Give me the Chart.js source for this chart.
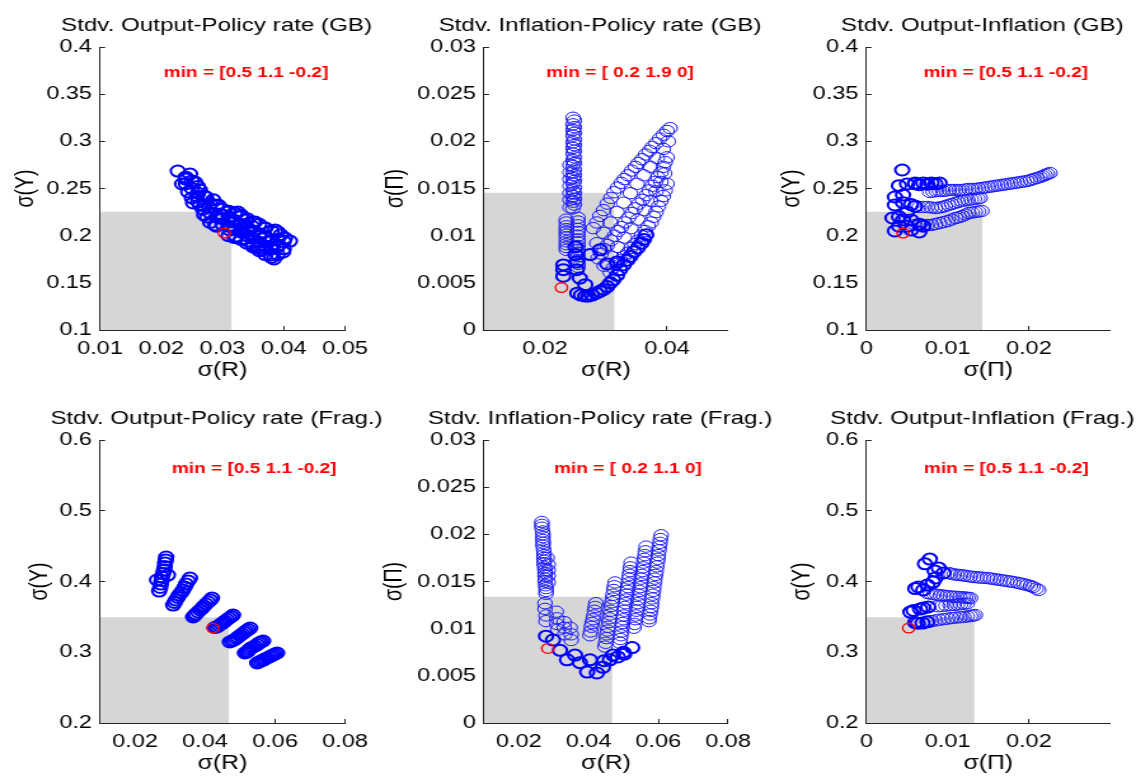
<!DOCTYPE html>
<html>
<head>
<meta charset="utf-8">
<script src="https://cdn.jsdelivr.net/npm/chart.js@4.4.0/dist/chart.umd.min.js"></script>
<style>
html,body{margin:0;padding:0;background:#fff;overflow:hidden;width:1136px;height:776px;}
#wrap{position:relative;width:1136px;height:776px;}
#wrap canvas{position:absolute;left:0;top:0;}
</style>
</head>
<body>
<div id="wrap"></div>
<script>
// ---------------- data ----------------
const titles = [
  'Stdv. Output-Policy rate (GB)',
  'Stdv. Inflation-Policy rate (GB)',
  'Stdv. Output-Inflation (GB)',
  'Stdv. Output-Policy rate (Frag.)',
  'Stdv. Inflation-Policy rate (Frag.)',
  'Stdv. Output-Inflation (Frag.)'
];
const notes = [
  'min = [0.5 1.1 -0.2]',
  'min = [ 0.2 1.9 0]',
  'min = [0.5 1.1 -0.2]',
  'min = [0.5 1.1 -0.2]',
  'min = [ 0.2 1.1 0]',
  'min = [0.5 1.1 -0.2]'
];
const xAxisLabels = ['σ(R)', 'σ(R)', 'σ(Π)', 'σ(R)', 'σ(R)', 'σ(Π)'];
const yAxisLabels = ['σ(Y)', 'σ(Π)', 'σ(Y)', 'σ(Y)', 'σ(Π)', 'σ(Y)'];

const xRanges = [[0.01, 0.05], [0.01, 0.05], [0, 0.03], [0.01, 0.08], [0.01, 0.08], [0, 0.03]];
const yRanges = [[0.1, 0.4], [0, 0.03], [0.1, 0.4], [0.2, 0.6], [0, 0.03], [0.2, 0.6]];

const xTickValues = [
  [0.01, 0.02, 0.03, 0.04, 0.05], [0.02, 0.04], [0, 0.01, 0.02],
  [0.02, 0.04, 0.06, 0.08], [0.02, 0.04, 0.06, 0.08], [0, 0.01, 0.02]
];
const xTickLabels = [
  ['0.01', '0.02', '0.03', '0.04', '0.05'], ['0.02', '0.04'], ['0', '0.01', '0.02'],
  ['0.02', '0.04', '0.06', '0.08'], ['0.02', '0.04', '0.06', '0.08'], ['0', '0.01', '0.02']
];
const yTicksOutputGB = [0.1, 0.15, 0.2, 0.25, 0.3, 0.35, 0.4];
const yLabelsOutputGB = ['0.1', '0.15', '0.2', '0.25', '0.3', '0.35', '0.4'];
const yTicksInfl = [0, 0.005, 0.01, 0.015, 0.02, 0.025, 0.03];
const yLabelsInfl = ['0', '0.005', '0.01', '0.015', '0.02', '0.025', '0.03'];
const yTicksOutputFrag = [0.2, 0.3, 0.4, 0.5, 0.6];
const yLabelsOutputFrag = ['0.2', '0.3', '0.4', '0.5', '0.6'];
const yTickValues = [yTicksOutputGB, yTicksInfl, yTicksOutputGB, yTicksOutputFrag, yTicksInfl, yTicksOutputFrag];
const yTickLabels = [yLabelsOutputGB, yLabelsInfl, yLabelsOutputGB, yLabelsOutputFrag, yLabelsInfl, yLabelsOutputFrag];

// shaded region upper corners [x, y]
const shadeLimits = [[0.0315, 0.2254], [0.0314, 0.01456], [0.0143, 0.2254], [0.0469, 0.3494], [0.0468, 0.01339], [0.0133, 0.3494]];

// Panel 1: GB, sigma(R) vs sigma(Y)
const gbOutPol_thick = [
  [0.0227,0.2685],[0.0247,0.2654],[0.0234,0.2548],[0.0255,0.2569],[0.0244,0.2463],[0.0263,0.2484],
  [0.0252,0.2346],[0.0273,0.2410],[0.0278,0.2304],[0.0275,0.2198],[0.0293,0.2325],[0.0296,0.2230],
  [0.0263,0.2325],[0.0288,0.2113],[0.0309,0.2251],[0.0312,0.2060],[0.0316,0.2145],[0.0325,0.2251],
  [0.0329,0.2113],[0.0322,0.1996],[0.0337,0.2166],[0.0345,0.2060],[0.0342,0.1943],[0.0353,0.2145],
  [0.0361,0.1996],[0.0358,0.1869],[0.0369,0.2081],[0.0374,0.1933],[0.0378,0.1795],[0.0386,0.2060],
  [0.0391,0.1901],[0.0384,0.1753],[0.0402,0.1975],[0.0410,0.1943],[0.0399,0.1827],[0.0240,0.2600],
  [0.0285,0.2380],[0.0300,0.2180],[0.0335,0.2030],[0.0350,0.1900],[0.0365,0.1850],[0.0395,0.2010],
  [0.0370,0.1990],[0.0380,0.1880],[0.0348,0.2100],[0.0330,0.2200],[0.0268,0.2280],[0.0258,0.2420],
  [0.024,0.255],[0.024,0.262],[0.025,0.240],[0.025,0.250],[0.025,0.258],[0.026,0.236],[0.026,0.245],[0.026,0.252],
  [0.027,0.222],[0.027,0.232],[0.027,0.242],[0.028,0.214],[0.028,0.224],[0.028,0.234],[0.029,0.210],[0.029,0.220],
  [0.029,0.232],[0.030,0.212],[0.030,0.222],[0.030,0.228],[0.031,0.200],[0.031,0.210],[0.031,0.220],[0.031,0.226],
  [0.032,0.198],[0.032,0.207],[0.032,0.216],[0.032,0.224],[0.033,0.196],[0.033,0.204],[0.033,0.212],[0.033,0.222],
  [0.034,0.192],[0.034,0.200],[0.034,0.208],[0.034,0.218],[0.035,0.188],[0.035,0.197],[0.035,0.205],[0.035,0.214],
  [0.036,0.184],[0.036,0.193],[0.036,0.202],[0.036,0.212],[0.037,0.180],[0.037,0.189],[0.037,0.198],[0.037,0.208],
  [0.038,0.177],[0.038,0.186],[0.038,0.195],[0.038,0.205],[0.039,0.180],[0.039,0.188],[0.039,0.196],[0.039,0.204],
  [0.040,0.186],[0.040,0.194]
];
const gbOutPol_thin = [];
const gbOutPol_min = [[0.0303, 0.2028]];

// Panel 2: GB, sigma(R) vs sigma(Pi)
const gbInfPol_thin = [
  [0.0246,0.0225],[0.0246,0.0218],[0.0246,0.0212],[0.0246,0.0206],[0.0246,0.0199],[0.0246,0.0193],
  [0.0246,0.0187],[0.0246,0.0180],[0.0246,0.0174],[0.0246,0.0167],[0.0246,0.0161],[0.0246,0.0155],
  [0.0246,0.0148],[0.0246,0.0142],[0.0246,0.0136],[0.0246,0.0129],
  [0.0248,0.0222],[0.0248,0.0215],[0.0248,0.0209],[0.0248,0.0202],[0.0248,0.0196],[0.0248,0.0190],
  [0.0248,0.0183],[0.0248,0.0177],[0.0248,0.0170],[0.0248,0.0164],[0.0248,0.0158],[0.0248,0.0151],
  [0.0248,0.0145],[0.0248,0.0139],[0.0248,0.0133],
  [0.0241,0.0175],[0.0241,0.0167],[0.0241,0.0160],[0.0241,0.0153],[0.0241,0.0145],[0.0241,0.0138],[0.0241,0.0130],
  [0.0235,0.0117],[0.0235,0.0114],[0.0235,0.0110],[0.0235,0.0107],[0.0235,0.0104],[0.0235,0.0101],
  [0.0235,0.0098],[0.0235,0.0094],[0.0235,0.0091],[0.0235,0.0088],[0.0235,0.0085],
  [0.0254,0.0119],[0.0254,0.0115],[0.0254,0.0111],[0.0254,0.0107],[0.0254,0.0104],[0.0254,0.0100],
  [0.0254,0.0096],[0.0254,0.0093],[0.0254,0.0089],[0.0254,0.0085],[0.0254,0.0082],[0.0254,0.0078],
  [0.0254,0.0074],[0.0254,0.0070],[0.0254,0.0067],
  [0.0279,0.0108],[0.0290,0.0121],[0.0302,0.0134],[0.0313,0.0146],[0.0325,0.0156],[0.0336,0.0164],
  [0.0348,0.0173],[0.0359,0.0181],[0.0371,0.0190],[0.0382,0.0198],[0.0394,0.0207],[0.0405,0.0214],
  [0.0285,0.0114],[0.0296,0.0127],[0.0308,0.0140],[0.0319,0.0151],[0.0330,0.0160],[0.0342,0.0169],
  [0.0353,0.0177],[0.0365,0.0186],[0.0376,0.0194],[0.0388,0.0203],[0.0400,0.0211],
  [0.0285,0.0092],[0.0296,0.0103],[0.0307,0.0114],[0.0318,0.0125],[0.0329,0.0135],[0.0340,0.0145],
  [0.0351,0.0155],[0.0362,0.0164],[0.0373,0.0173],[0.0384,0.0182],[0.0394,0.0192],[0.0402,0.0200],
  [0.0287,0.0076],[0.0297,0.0086],[0.0308,0.0095],[0.0320,0.0105],[0.0331,0.0114],[0.0343,0.0124],
  [0.0354,0.0134],[0.0366,0.0143],[0.0376,0.0153],[0.0385,0.0162],[0.0394,0.0173],[0.0400,0.0183],
  [0.0292,0.0081],[0.0302,0.0090],[0.0314,0.0100],[0.0325,0.0109],[0.0337,0.0119],[0.0348,0.0129],
  [0.0360,0.0138],[0.0371,0.0148],[0.0381,0.0157],[0.0390,0.0167],[0.0397,0.0178],
  [0.0297,0.0068],[0.0308,0.0078],[0.0319,0.0088],[0.0330,0.0098],[0.0341,0.0108],[0.0352,0.0117],
  [0.0363,0.0127],[0.0373,0.0137],[0.0382,0.0147],[0.0390,0.0157],[0.0396,0.0166],
  [0.0307,0.0061],[0.0318,0.0070],[0.0330,0.0078],[0.0341,0.0087],[0.0353,0.0095],[0.0364,0.0105],
  [0.0374,0.0114],[0.0382,0.0125],[0.0390,0.0137],[0.0397,0.0148],
  [0.0312,0.0066],[0.0324,0.0074],[0.0336,0.0082],[0.0347,0.0091],[0.0358,0.0100],[0.0369,0.0110],
  [0.0378,0.0120],[0.0386,0.0131],[0.0394,0.0142],[0.0400,0.0155]
];
const gbInfPol_thick = [
  [0.0253,0.0039],[0.0266,0.0036],[0.0277,0.0037],[0.0290,0.0041],[0.0302,0.0046],[0.0312,0.0053],
  [0.0323,0.0064],[0.0335,0.0074],[0.0346,0.0083],[0.0358,0.0092],[0.0366,0.0101],
  [0.0259,0.0037],[0.0271,0.0036],[0.0284,0.0039],[0.0296,0.0043],[0.0307,0.0050],[0.0318,0.0058],
  [0.0329,0.0069],[0.0340,0.0078],[0.0352,0.0087],[0.0362,0.0096],
  [0.0274,0.0080],[0.0290,0.0085],[0.0257,0.0055],[0.0230,0.0069],[0.0230,0.0064],[0.0230,0.0057],
  [0.0302,0.0070],[0.0318,0.0072],[0.0266,0.0048],[0.0250,0.0088],[0.0250,0.0080],[0.0252,0.0072],[0.0252,0.0064]
];
const gbInfPol_min = [[0.0227, 0.0045]];

// Panel 3: GB, sigma(Pi) vs sigma(Y)
const gbOutInf_thick = [
  [0.0044,0.2696],[0.0050,0.2548],[0.0060,0.2558],[0.0070,0.2558],[0.0080,0.2558],[0.0090,0.2558],
  [0.0035,0.2410],[0.0045,0.2431],[0.0035,0.2325],[0.0032,0.2187],[0.0045,0.2166],[0.0055,0.2166],
  [0.0035,0.2050],[0.0065,0.2039],
  [0.0040,0.2530],[0.0045,0.2350],[0.0050,0.2250],[0.0040,0.2200],[0.0050,0.2100],[0.0040,0.2100],
  [0.0055,0.2060],[0.0060,0.2550],[0.0065,0.2540],[0.0075,0.2545],[0.0085,0.2550],[0.0055,0.2330],
  [0.0060,0.2310],[0.0065,0.2120],[0.0070,0.2100]
];
const gbOutInf_thin = [
  [0.0078,0.2463],[0.0086,0.2474],[0.0094,0.2474],[0.0102,0.2484],[0.0110,0.2484],[0.0118,0.2484],
  [0.0126,0.2495],[0.0134,0.2495],[0.0142,0.2505],[0.0150,0.2516],[0.0158,0.2527],[0.0166,0.2537],
  [0.0174,0.2548],[0.0182,0.2558],[0.0190,0.2569],[0.0198,0.2580],[0.0206,0.2601],[0.0214,0.2622],
  [0.0220,0.2643],[0.0226,0.2664],
  [0.0082,0.2468],[0.0090,0.2474],[0.0098,0.2479],[0.0106,0.2484],[0.0114,0.2484],[0.0122,0.2490],
  [0.0130,0.2495],[0.0138,0.2500],[0.0146,0.2510],[0.0154,0.2521],[0.0162,0.2532],[0.0170,0.2542],
  [0.0178,0.2553],[0.0186,0.2563],[0.0194,0.2574],[0.0202,0.2590],[0.0210,0.2611],[0.0217,0.2632],[0.0223,0.2654],
  [0.0055,0.2325],[0.0065,0.2304],[0.0075,0.2304],[0.0085,0.2293],[0.0093,0.2304],[0.0101,0.2325],
  [0.0109,0.2346],[0.0117,0.2367],[0.0125,0.2378],[0.0133,0.2389],[0.0140,0.2400],
  [0.0060,0.2315],[0.0070,0.2304],[0.0080,0.2298],[0.0089,0.2298],[0.0097,0.2314],[0.0105,0.2335],
  [0.0113,0.2356],[0.0121,0.2372],[0.0129,0.2384],[0.0137,0.2394],
  [0.0060,0.2113],[0.0070,0.2113],[0.0080,0.2113],[0.0090,0.2134],[0.0100,0.2155],[0.0110,0.2187],
  [0.0118,0.2208],[0.0126,0.2240],[0.0134,0.2251],[0.0142,0.2262],
  [0.0065,0.2113],[0.0075,0.2113],[0.0085,0.2123],[0.0095,0.2144],[0.0105,0.2171],[0.0114,0.2197],
  [0.0122,0.2224],[0.0130,0.2245],[0.0138,0.2256]
];
const gbOutInf_min = [[0.0045, 0.2028]];

// Panel 4: Frag., sigma(R) vs sigma(Y)
const fragOutPol_thick = [
  [0.0289,0.4346],[0.0286,0.4261],[0.0283,0.4162],[0.0277,0.4063],[0.0274,0.3964],[0.0269,0.3865],[0.0294,0.4091],[0.0263,0.4021],
  [0.0288,0.4304],[0.0285,0.4212],[0.0280,0.4113],[0.0276,0.4014],[0.0272,0.3915],
  [0.0357,0.4049],[0.0346,0.3964],[0.0337,0.3879],[0.0326,0.3809],[0.0317,0.3738],[0.0309,0.3667],
  [0.0352,0.4007],[0.0342,0.3922],[0.0332,0.3844],[0.0322,0.3774],[0.0313,0.3703],
  [0.0420,0.3766],[0.0409,0.3710],[0.0397,0.3653],[0.0386,0.3597],[0.0374,0.3540],[0.0366,0.3498],
  [0.0415,0.3738],[0.0403,0.3682],[0.0392,0.3625],[0.0380,0.3569],[0.0370,0.3519],
  [0.0480,0.3526],[0.0469,0.3484],[0.0457,0.3441],[0.0446,0.3399],[0.0434,0.3357],
  [0.0475,0.3505],[0.0463,0.3463],[0.0452,0.3420],[0.0440,0.3378],[0.0428,0.3350],
  [0.0529,0.3342],[0.0517,0.3300],[0.0506,0.3258],[0.0494,0.3215],[0.0483,0.3173],[0.0471,0.3145],
  [0.0523,0.3321],[0.0512,0.3279],[0.0500,0.3237],[0.0489,0.3194],[0.0477,0.3159],
  [0.0566,0.3159],[0.0554,0.3130],[0.0543,0.3088],[0.0531,0.3060],[0.0523,0.3017],[0.0514,0.2989],
  [0.0560,0.3145],[0.0549,0.3109],[0.0537,0.3074],[0.0527,0.3039],[0.0519,0.3003],
  [0.0606,0.2989],[0.0594,0.2961],[0.0583,0.2933],[0.0571,0.2904],[0.0560,0.2876],[0.0549,0.2848],
  [0.0600,0.2975],[0.0589,0.2947],[0.0577,0.2919],[0.0566,0.2890],[0.0554,0.2862]
];
const fragOutPol_thin = [];
const fragOutPol_min = [[0.0423, 0.3342]];

// Panel 5: Frag., sigma(R) vs sigma(Pi)
const fragInfPol_thin = [
  [0.0266,0.0213],[0.0266,0.0207],[0.0269,0.0200],[0.0269,0.0194],[0.0269,0.0188],[0.0272,0.0181],
  [0.0272,0.0175],[0.0272,0.0169],[0.0275,0.0162],[0.0275,0.0156],[0.0275,0.0150],[0.0278,0.0143],[0.0278,0.0137],
  [0.0266,0.0210],[0.0268,0.0203],[0.0269,0.0197],[0.0270,0.0191],[0.0271,0.0184],[0.0272,0.0178],
  [0.0273,0.0172],[0.0274,0.0165],[0.0275,0.0159],[0.0276,0.0153],[0.0277,0.0146],[0.0278,0.0140],
  [0.0281,0.0175],[0.0284,0.0168],[0.0284,0.0162],[0.0284,0.0156],[0.0284,0.0149],
  [0.0275,0.0127],[0.0275,0.0121],[0.0278,0.0114],[0.0278,0.0108],
  [0.0307,0.0118],[0.0309,0.0111],[0.0309,0.0105],[0.0312,0.0099],
  [0.0330,0.0107],[0.0330,0.0101],[0.0332,0.0094],
  [0.0347,0.0101],[0.0350,0.0094],[0.0350,0.0088],
  [0.0608,0.0199],[0.0605,0.0191],[0.0602,0.0183],[0.0599,0.0174],[0.0596,0.0166],[0.0592,0.0157],
  [0.0589,0.0149],[0.0586,0.0140],[0.0583,0.0132],[0.0580,0.0123],[0.0576,0.0115],[0.0573,0.0108],
  [0.0606,0.0195],[0.0603,0.0187],[0.0600,0.0178],[0.0597,0.0170],[0.0594,0.0161],[0.0590,0.0153],
  [0.0587,0.0144],[0.0584,0.0136],[0.0581,0.0127],[0.0578,0.0119],[0.0574,0.0111],
  [0.0565,0.0187],[0.0562,0.0178],[0.0558,0.0170],[0.0555,0.0161],[0.0551,0.0153],[0.0548,0.0144],
  [0.0544,0.0136],[0.0541,0.0127],[0.0537,0.0119],[0.0534,0.0110],[0.0530,0.0101],
  [0.0563,0.0182],[0.0560,0.0174],[0.0556,0.0165],[0.0553,0.0157],[0.0549,0.0148],[0.0546,0.0140],
  [0.0542,0.0131],[0.0539,0.0123],[0.0535,0.0114],[0.0532,0.0105],
  [0.0522,0.0170],[0.0519,0.0161],[0.0516,0.0153],[0.0513,0.0144],[0.0509,0.0136],[0.0506,0.0127],
  [0.0503,0.0119],[0.0500,0.0110],[0.0497,0.0102],[0.0493,0.0093],[0.0490,0.0085],
  [0.0520,0.0165],[0.0517,0.0157],[0.0514,0.0148],[0.0511,0.0140],[0.0508,0.0131],[0.0504,0.0123],
  [0.0501,0.0114],[0.0498,0.0106],[0.0495,0.0097],[0.0491,0.0089],
  [0.0476,0.0149],[0.0472,0.0141],[0.0469,0.0132],[0.0465,0.0124],[0.0462,0.0115],[0.0458,0.0107],
  [0.0454,0.0098],[0.0451,0.0090],[0.0447,0.0081],
  [0.0474,0.0145],[0.0470,0.0136],[0.0467,0.0128],[0.0463,0.0119],[0.0460,0.0111],[0.0456,0.0102],
  [0.0452,0.0094],[0.0449,0.0085],
  [0.0421,0.0127],[0.0417,0.0119],[0.0413,0.0110],[0.0408,0.0102],[0.0404,0.0093],
  [0.0419,0.0123],[0.0415,0.0114],[0.0410,0.0106],[0.0406,0.0097]
];
const fragInfPol_thick = [
  [0.0278,0.0092],[0.0298,0.0088],[0.0318,0.0077],[0.0338,0.0067],[0.0361,0.0072],[0.0375,0.0064],
  [0.0396,0.0054],[0.0424,0.0053],[0.0441,0.0059],[0.0461,0.0067],[0.0484,0.0070],[0.0502,0.0073],[0.0404,0.0067],
  [0.0525,0.0080],[0.0500,0.0075],[0.0470,0.0072],[0.0445,0.0066]
];
const fragInfPol_min = [[0.0283, 0.0079]];

// Panel 6: Frag., sigma(Pi) vs sigma(Y)
const fragOutInf_thick = [
  [0.0078,0.4317],[0.0089,0.4190],[0.0095,0.4120],[0.0064,0.3922],[0.0082,0.3992],[0.0070,0.3880],
  [0.0054,0.3568],[0.0066,0.3610],[0.0076,0.3640],[0.0069,0.3413],[0.0063,0.3410],
  [0.0072,0.4250],[0.0084,0.4150],[0.0060,0.3900],[0.0075,0.3950],[0.0058,0.3590],[0.0070,0.3625],
  [0.0060,0.3420],[0.0075,0.3430],[0.0085,0.4050]
];
const fragOutInf_thin = [
  [0.0101,0.4120],[0.0108,0.4100],[0.0116,0.4091],[0.0124,0.4077],[0.0132,0.4063],[0.0140,0.4056],
  [0.0149,0.4049],[0.0157,0.4035],[0.0165,0.4021],[0.0173,0.4007],[0.0181,0.3992],[0.0190,0.3971],
  [0.0198,0.3950],[0.0205,0.3922],[0.0212,0.3880],
  [0.0104,0.4110],[0.0112,0.4095],[0.0120,0.4084],[0.0128,0.4070],[0.0136,0.4060],[0.0144,0.4052],
  [0.0153,0.4042],[0.0161,0.4028],[0.0169,0.4014],[0.0177,0.4000],[0.0186,0.3982],[0.0194,0.3961],
  [0.0202,0.3936],[0.0209,0.3900],
  [0.0075,0.3837],[0.0083,0.3820],[0.0091,0.3805],[0.0099,0.3795],[0.0107,0.3785],[0.0115,0.3780],
  [0.0122,0.3772],[0.0128,0.3766],
  [0.0079,0.3828],[0.0087,0.3812],[0.0095,0.3800],[0.0103,0.3790],[0.0111,0.3783],[0.0119,0.3776],[0.0125,0.3769],
  [0.0088,0.3650],[0.0098,0.3660],[0.0108,0.3670],[0.0116,0.3680],[0.0124,0.3690],
  [0.0093,0.3655],[0.0103,0.3665],[0.0112,0.3675],[0.0120,0.3685],
  [0.0080,0.3440],[0.0090,0.3460],[0.0100,0.3475],[0.0110,0.3490],[0.0120,0.3500],[0.0128,0.3512],[0.0134,0.3526],
  [0.0085,0.3450],[0.0095,0.3468],[0.0105,0.3483],[0.0115,0.3495],[0.0124,0.3506],[0.0131,0.3519]
];
const fragOutInf_min = [[0.0052, 0.3342]];

const thickSets = [gbOutPol_thick, gbInfPol_thick, gbOutInf_thick, fragOutPol_thick, fragInfPol_thick, fragOutInf_thick];
const thinSets = [gbOutPol_thin, gbInfPol_thin, gbOutInf_thin, fragOutPol_thin, fragInfPol_thin, fragOutInf_thin];
const minSets = [gbOutPol_min, gbInfPol_min, gbOutInf_min, fragOutPol_min, fragInfPol_min, fragOutInf_min];

// ---------------- layout / style ----------------
const W = 894, H = 776, STRETCH = 1136 / W;
const FONT = '"Liberation Sans", Arial, Helvetica, sans-serif';
const layout = {
  cols: [{l: 100, r: 345}, {l: 484, r: 728}, {l: 866.5, r: 1110}],
  rows: [{t: 47, b: 330}, {t: 440, b: 723}],
  yTitleOffset: [73.3, 88, 74.5, 60, 89, 63.5],
  notePos: [[0.596, 0.092], [0.557, 0.092], [0.572, 0.092], [0.629, 0.102], [0.59, 0.102], [0.574, 0.102]]
};
const AXIS = '#262626';

const textPlugin = {
  id: 'panelText',
  afterDraw(chart, args, opts) {
    const ctx = chart.ctx, a = chart.chartArea;
    ctx.save();
    ctx.fillStyle = '#000';
    ctx.font = '19px ' + FONT;
    ctx.textAlign = 'center';
    ctx.textBaseline = 'alphabetic';
    ctx.fillText(opts.title, (a.left + a.right) / 2 - 4.7, a.top - 16);
    ctx.fillStyle = '#ff0000';
    ctx.font = 'bold 15px ' + FONT;
    ctx.textBaseline = 'middle';
    ctx.fillText(opts.note, a.left + opts.nx * (a.right - a.left), a.top + opts.ny * (a.bottom - a.top));
    ctx.restore();
  }
};

const toPts = arr => arr.map(p => ({x: p[0], y: p[1]}));
const wrap = document.getElementById('wrap');

for (let i = 0; i < 6; i++) {
  const col = layout.cols[i % 3], row = layout.rows[Math.floor(i / 3)];
  const L = col.l / STRETCH, R = col.r / STRETCH, T = row.t, B = row.b;
  const lh = 19.5 * 1.2;
  const wy = layout.yTitleOffset[i] / STRETCH + lh / 2 + 4;
  const hx = 52;
  const canvas = document.createElement('canvas');
  canvas.width = W; canvas.height = H;
  canvas.style.width = '1136px'; canvas.style.height = '776px';
  wrap.appendChild(canvas);

  const xv = xTickValues[i], xl = xTickLabels[i], yv = yTickValues[i], yl = yTickLabels[i];
  const shade = shadeLimits[i];

  new Chart(canvas.getContext('2d'), {
    type: 'scatter',
    data: {
      datasets: [
        {type: 'scatter', data: toPts(minSets[i]), pointRadius: 4.8, pointBorderColor: '#ff0000',
         pointBackgroundColor: 'rgba(0,0,0,0)', pointBorderWidth: 1.3, order: 1},
        {type: 'scatter', data: toPts(thickSets[i]), pointRadius: 5.5, pointBorderColor: '#0000ff',
         pointBackgroundColor: 'rgba(0,0,0,0)', pointBorderWidth: 2, order: 2},
        {type: 'scatter', data: toPts(thinSets[i]), pointRadius: 5.7, pointBorderColor: '#1a1aff',
         pointBackgroundColor: 'rgba(0,0,0,0)', pointBorderWidth: 1, order: 3},
        {type: 'line', data: [{x: xRanges[i][0], y: shade[1]}, {x: shade[0], y: shade[1]}],
         fill: 'start', backgroundColor: '#d6d6d6', borderWidth: 0, pointRadius: 0, order: 4}
      ]
    },
    options: {
      responsive: false,
      animation: false,
      devicePixelRatio: 1,
      events: [],
      layout: {padding: {left: L - wy, right: W - R, top: T, bottom: H - B - hx}},
      plugins: {
        legend: {display: false},
        tooltip: {enabled: false},
        panelText: {title: titles[i], note: notes[i], nx: layout.notePos[i][0], ny: layout.notePos[i][1]}
      },
      scales: {
        x: {
          type: 'linear', position: 'bottom', min: xRanges[i][0], max: xRanges[i][1],
          afterBuildTicks: s => { s.ticks = xv.map(v => ({value: v})); },
          afterFit: s => { s.height = hx; },
          ticks: {callback: (v, k) => xl[k], padding: 12, maxRotation: 0, autoSkip: false,
                  color: '#000', font: {family: FONT, size: 18.5}},
          grid: {drawOnChartArea: false, drawTicks: true, tickLength: -4, color: AXIS, lineWidth: 1},
          border: {display: true, color: AXIS, width: 1},
          title: {display: true, text: xAxisLabels[i], color: '#000', font: {family: FONT, size: 19.5},
                  padding: {top: 0, bottom: 0}}
        },
        y: {
          type: 'linear', position: 'left', min: yRanges[i][0], max: yRanges[i][1],
          afterBuildTicks: s => { s.ticks = yv.map(v => ({value: v})); },
          afterFit: s => { s.width = wy; },
          ticks: {callback: (v, k) => yl[k], padding: 10.3, autoSkip: false,
                  color: '#000', font: {family: FONT, size: 18.5}},
          grid: {drawOnChartArea: false, drawTicks: true, tickLength: -4, color: AXIS, lineWidth: 1},
          border: {display: true, color: AXIS, width: 1},
          title: {display: true, text: yAxisLabels[i], color: '#000', font: {family: FONT, size: 19.5},
                  padding: {top: 4, bottom: 0}}
        }
      }
    },
    plugins: [textPlugin]
  });
}
</script>
</body>
</html>
